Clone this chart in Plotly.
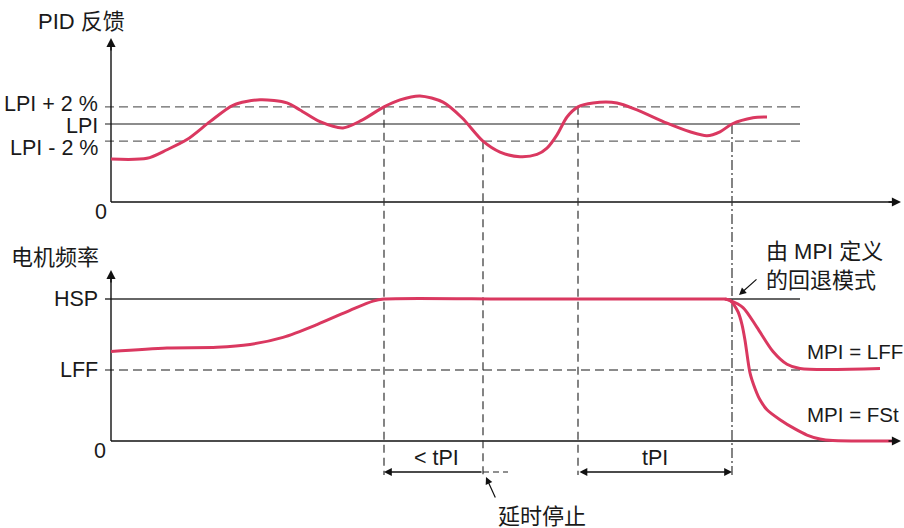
import plotly.graph_objects as go

# ---------------- data ----------------
# Top panel: PID feedback vs time (LPI = 100, band = LPI +/- 2 %)
pid_t = [0, 3.6, 5.6, 7.6, 9.9, 12.2, 14.9, 17.6, 18.9, 20.9, 23.2, 25.1, 27.3, 28.9,
         30.9, 33.2, 35.1, 37.2, 38.9, 40.9, 42.6, 43.6, 44.6, 45.6, 46.7, 48.2, 50.6,
         52.6, 55.6, 57.9, 59.6, 60.9, 62.1, 64.2, 65.6]
pid_v = [55, 56, 67, 80, 103, 124, 131, 127, 118, 103, 95, 105, 122, 131,
         136, 128, 108, 78, 64, 58, 61, 69, 86, 109, 122, 127, 127,
         118, 101, 90, 85, 90, 100, 108, 109]
LPI_LEVELS = {"LPI + 2 %": 122, "LPI": 100, "LPI - 2 %": 78}

# Bottom panel: motor frequency vs time (HSP = 100, LFF = 50)
motor_t = [0, 5.6, 10.6, 13.9, 17.2, 20.6, 23.9, 26.2, 27.3, 40, 50, 61.4]
motor_f = [63, 65.5, 66, 68, 73, 82, 92, 98.5, 100, 100, 100, 100]
lff_t = [61.4, 61.9, 63.2, 64.6, 66.2, 67.6, 68.9, 76.9]
lff_f = [100, 99, 94, 80, 63, 54, 51, 51]
fst_t = [61.4, 61.9, 62.7, 63.1, 63.4, 63.9, 64.4, 64.9, 65.6, 66.9, 68.4, 69.6, 70.9,
         72.2, 78.2]
fst_f = [100, 99, 91, 82, 71, 48, 37, 29, 22, 15, 8.5, 4.2, 1.4, 0.3, 0]
HSP, LFF = 100, 50

# event times (vertical markers) and the level where each starts
event_t = [27.3, 37.2, 46.7, 62.1]
event_level = [122, 78, 122, 100]

# ---------------- layout helpers ----------------
W, H = 904, 528
X0PX, TPX = 111, 10.0          # t=0 at pixel 111, 10 px per unit
TOP0, TOPS = 202, 0.78         # top panel: value 0 at y=202 px, px per unit
BOT0, BOTS = 441, 1.42         # bottom panel: value 0 at y=441 px


def tx(px):
    return (px - X0PX) / TPX


def ty(py):
    return (TOP0 - py) / TOPS


def by(py):
    return (BOT0 - py) / BOTS


def top_to_bot(v):
    return by(TOP0 - v * TOPS)


RED = "#da3860"
GREY = "#666666"
FONT = "Liberation Sans, Arial, Noto Sans CJK SC, sans-serif"
FS = 21.5
FS_CJK = 22

fig = go.Figure()
line_style = dict(color=RED, width=3, shape="spline", smoothing=0.8)
fig.add_trace(go.Scatter(x=pid_t, y=pid_v, mode="lines", line=line_style, yaxis="y"))
fig.add_trace(go.Scatter(x=motor_t, y=motor_f, mode="lines", line=line_style, yaxis="y2"))
fig.add_trace(go.Scatter(x=lff_t, y=lff_f, mode="lines", line=line_style, yaxis="y2"))
fig.add_trace(go.Scatter(x=fst_t, y=fst_f, mode="lines", line=line_style, yaxis="y2"))

shapes = []
ann = []
t_tick, t_end_ref = tx(105), tx(800)

# reference lines top
for name, v in LPI_LEVELS.items():
    dash = "solid" if name == "LPI" else "9px,5px"
    shapes.append(dict(type="line", xref="x", yref="y", x0=t_tick, x1=t_end_ref, y0=v, y1=v,
                       line=dict(color=GREY, width=1.4, dash=dash), layer="below"))
# reference lines bottom
shapes.append(dict(type="line", xref="x", yref="y2", x0=t_tick, x1=t_end_ref, y0=HSP, y1=HSP,
                   line=dict(color="#333", width=1.3), layer="below"))
shapes.append(dict(type="line", xref="x", yref="y2", x0=t_tick, x1=t_end_ref, y0=LFF, y1=LFF,
                   line=dict(color=GREY, width=1.4, dash="9px,5px"), layer="below"))

# axes (lines below traces) + arrowheads
for yref, conv, ytop in (("y", ty, 38), ("y2", by, 270)):
    shapes.append(dict(type="line", xref="x", yref=yref, x0=0, x1=0, y0=0, y1=conv(ytop + 6),
                       line=dict(color="#111", width=1.4), layer="below"))
    shapes.append(dict(type="line", xref="x", yref=yref, x0=0, x1=tx(894), y0=0, y1=0,
                       line=dict(color="#111", width=1.4), layer="below"))
    ann.append(dict(x=0, y=conv(ytop), ax=0, ay=conv(ytop + 14), xref="x", yref=yref,
                    axref="x", ayref=yref, text="", showarrow=True, arrowhead=2,
                    arrowsize=1.3, arrowwidth=1.4, arrowcolor="#111", standoff=0))
    ann.append(dict(x=tx(901), y=0, ax=tx(887), ay=0, xref="x", yref=yref,
                    axref="x", ayref=yref, text="", showarrow=True, arrowhead=2,
                    arrowsize=1.3, arrowwidth=1.4, arrowcolor="#111", standoff=0))

# vertical event markers
y_bottom = by(475)
dashes = ["8px,5px", "8px,5px", "8px,5px", "10px,3px,2px,3px"]
for t, lv, d in zip(event_t, event_level, dashes):
    shapes.append(dict(type="line", xref="x", yref="y2", x0=t, x1=t, y0=top_to_bot(lv), y1=y_bottom,
                       line=dict(color="#333", width=1.2, dash=d), layer="below"))

# duration arrows
y_arr = by(472)
ann.append(dict(x=event_t[0], y=y_arr, ax=event_t[1], ay=y_arr, xref="x", yref="y2", axref="x",
                ayref="y2", text="", showarrow=True, arrowhead=2, arrowsize=1.2, arrowwidth=1.3,
                arrowcolor="#111", standoff=0))
shapes.append(dict(type="line", xref="x", yref="y2", x0=event_t[1], x1=tx(508), y0=y_arr, y1=y_arr,
                   line=dict(color="#222", width=1.2, dash="6px,4px")))
ann.append(dict(x=event_t[3], y=y_arr, ax=event_t[2], ay=y_arr, xref="x", yref="y2", axref="x",
                ayref="y2", text="", showarrow=True, arrowhead=2, arrowside="end+start",
                arrowsize=1.2, arrowwidth=1.3, arrowcolor="#111", standoff=0, startstandoff=0))

# pointer arrows
ann.append(dict(x=tx(486), y=by(477), ax=tx(496), ay=by(499), xref="x", yref="y2", axref="x",
                ayref="y2", text="", showarrow=True, arrowhead=2, arrowsize=1.2, arrowwidth=1.2,
                arrowcolor="#111", standoff=0))
ann.append(dict(x=tx(739), y=by(295), ax=tx(758), ay=by(278), xref="x", yref="y2", axref="x",
                ayref="y2", text="", showarrow=True, arrowhead=2, arrowsize=1.2, arrowwidth=1.2,
                arrowcolor="#111", standoff=0))


def label(text, x, y, yref, xanchor="center", size=FS):
    ann.append(dict(text=text, x=x, y=y, xref="x", yref=yref, showarrow=False,
                    xanchor=xanchor, yanchor="middle",
                    font=dict(family=FONT, size=size, color="#1a1a1a")))


label("PID 反馈", tx(36), ty(21), "y", "left", FS_CJK)
label("LPI + 2 %", tx(100), ty(104), "y", "right")
label("LPI", tx(100), ty(126), "y", "right")
label("LPI - 2 %", tx(100), ty(148), "y", "right")
label("0", tx(101), ty(212), "y")
label("电机频率", tx(9), by(257), "y2", "left", FS_CJK)
label("HSP", tx(100), HSP, "y2", "right")
label("LFF", tx(100), LFF, "y2", "right")
label("0", tx(100), by(451), "y2")
label("&lt; tPI", tx(436), by(458), "y2")
label("tPI", tx(655), by(458), "y2")
label("延时停止", tx(542), by(516), "y2", size=FS_CJK)
label("由 MPI 定义", tx(764), by(251), "y2", "left", FS_CJK)
label("的回退模式", tx(764), by(280), "y2", "left", FS_CJK)
label("MPI = LFF", tx(805), by(351), "y2", "left", 20.5)
label("MPI = FSt", tx(805), by(414), "y2", "left", 20.5)

fig.update_layout(
    width=W, height=H, margin=dict(l=0, r=0, t=0, b=0),
    paper_bgcolor="white", plot_bgcolor="white", showlegend=False,
    xaxis=dict(range=[tx(0), tx(W)], visible=False, fixedrange=True),
    yaxis=dict(range=[ty(H), ty(0)], visible=False, fixedrange=True),
    yaxis2=dict(range=[by(H), by(0)], visible=False, overlaying="y", fixedrange=True),
    shapes=shapes, annotations=ann,
)
fig.write_html("out.html", config={"displayModeBar": False},
               post_script="document.body.style.margin='0';document.body.style.overflow='hidden';")
